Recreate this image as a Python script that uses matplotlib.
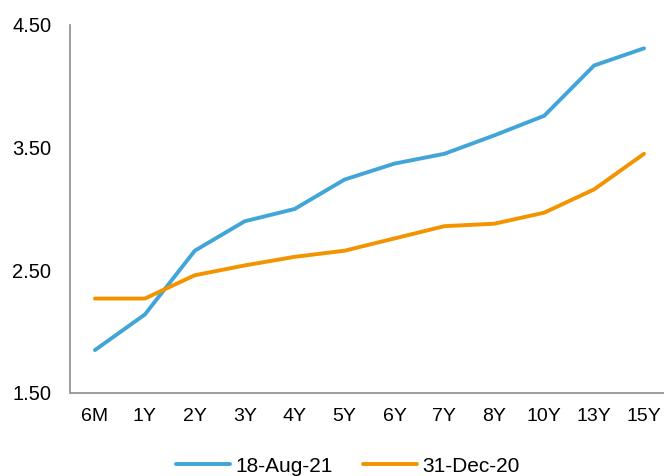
import matplotlib
matplotlib.use("Agg")
import matplotlib.pyplot as plt

categories = ["6M", "1Y", "2Y", "3Y", "4Y", "5Y", "6Y", "7Y", "8Y", "10Y", "13Y", "15Y"]
aug21 = [1.85, 2.14, 2.66, 2.90, 3.00, 3.24, 3.37, 3.45, 3.60, 3.76, 4.17, 4.31]
dec20 = [2.27, 2.27, 2.46, 2.54, 2.61, 2.66, 2.76, 2.86, 2.88, 2.97, 3.16, 3.45]
yticks = [1.50, 2.50, 3.50, 4.50]

plt.rcParams['font.family'] = ['Liberation Sans', 'DejaVu Sans']

fig = plt.figure(figsize=(6.64, 4.76), dpi=100)
ax = fig.add_axes([70/664, 1 - 393/476, 599/664, (393-25)/476])

x = list(range(len(categories)))
ax.plot(x, aug21, color="#41A5D8", lw=2.8, label="18-Aug-21", solid_capstyle='round')
ax.plot(x, dec20, color="#F39300", lw=2.8, label="31-Dec-20", solid_capstyle='round')

ax.set_xlim(-0.5, len(categories) - 0.5)
ax.set_ylim(1.5, 4.5)
ax.set_yticks(yticks)
ax.set_yticklabels([f"{v:.2f}" for v in yticks], fontsize=14.5)
ax.set_xticks(x)
ax.set_xticklabels(categories, fontsize=14)
ax.tick_params(axis='both', length=0, colors='#000000')
ax.tick_params(axis='y', pad=13.5)
ax.tick_params(axis='x', pad=11)
for s in ['top', 'right']:
    ax.spines[s].set_visible(False)
for s in ['left', 'bottom']:
    ax.spines[s].set_color('#8C8C8C')
    ax.spines[s].set_linewidth(1.2)
ax.spines['bottom'].set_capstyle('butt')

leg = fig.legend(loc='center', bbox_to_anchor=(0.524, 1 - 466/476), ncol=2, frameon=False,
                 fontsize=15, handlelength=2.6, handletextpad=0.25, columnspacing=1.45)

fig.savefig("out.png", dpi=100)
